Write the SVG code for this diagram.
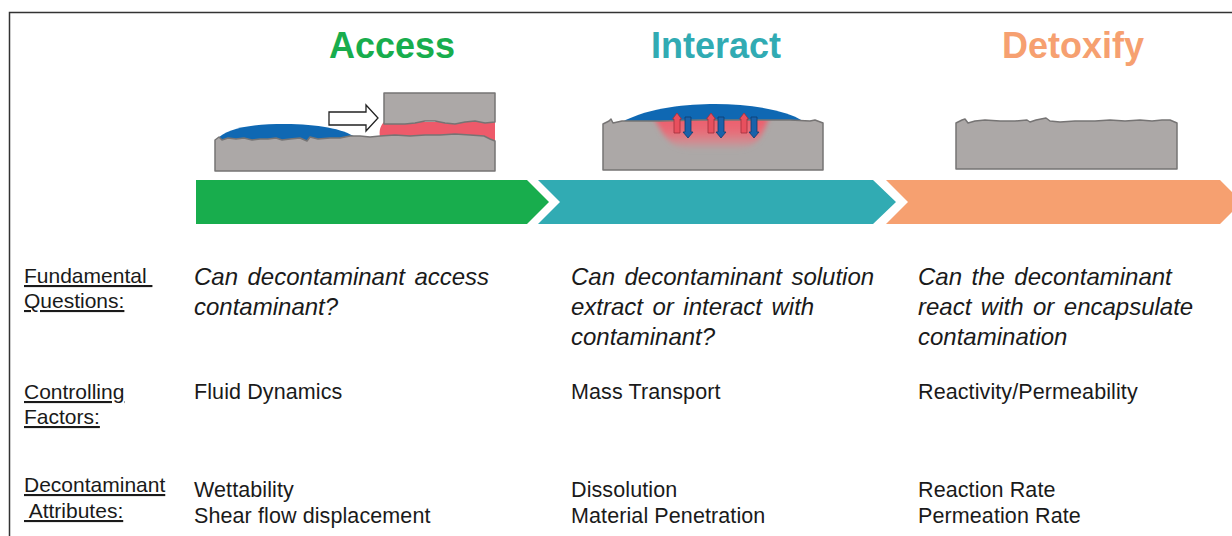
<svg xmlns="http://www.w3.org/2000/svg" width="1232" height="536" viewBox="0 0 1232 536">
  <style>
    .title { font-family: "Liberation Sans", Arial, sans-serif; font-weight: bold; font-size: 36px; text-anchor: middle; }
    .label { font-family: "Liberation Sans", Arial, sans-serif; font-size: 21px; fill: #1a1a1a; text-decoration: underline; }
    .q { font-family: "Liberation Sans", Arial, sans-serif; font-size: 24px; font-style: italic; fill: #1a1a1a; word-spacing: 2.8px; }
    .body { font-family: "Liberation Sans", Arial, sans-serif; font-size: 21.5px; letter-spacing: 0.1px; fill: #1a1a1a; }
    .solid { fill: #aca8a7; stroke: #767474; stroke-width: 1.5; stroke-linejoin: round; }
    .frame { fill: none; stroke: #333; stroke-width: 1.5; }
  </style>
  <defs>
    <linearGradient id="soak" x1="0" y1="0" x2="0" y2="1">
      <stop offset="0" stop-color="#ee5a6a" stop-opacity="1"/>
      <stop offset="0.5" stop-color="#ea6b77" stop-opacity="0.95"/>
      <stop offset="0.8" stop-color="#dd828a" stop-opacity="0.7"/>
      <stop offset="1" stop-color="#c09a9c" stop-opacity="0.3"/>
    </linearGradient>
    <filter id="soften" x="-20%" y="-30%" width="140%" height="160%">
      <feGaussianBlur stdDeviation="2.5"/>
    </filter>
    <clipPath id="blockClip">
      <path d="M603,170 L603,124 L609,121 L611,119 L613,123 L622,121 L660,121 L700,120 L740,120 L790,120 L810,121 L815,120 L823,123 L823,170 Z"/>
    </clipPath>
    <path id="upArrow" d="M0,0 L4.5,6 L3,6 L3,20 L-3,20 L-3,6 L-4.5,6 Z" fill="#e8505e" stroke="#a0303c" stroke-width="0.8"/>
    <path id="downArrow" d="M0,0 L-5,-6 L-3,-6 L-3,-21 L3,-21 L3,-6 L5,-6 Z" fill="#1a62aa" stroke="#0d3d70" stroke-width="0.8"/>
  </defs>

  <!-- outer frame (top and left edges visible) -->
  <path class="frame" d="M9.5,536 L9.5,12.5 L1232,12.5"/>

  <!-- stage titles -->
  <text class="title" x="392" y="58" fill="#18ad4d">Access</text>
  <text class="title" x="716" y="58" fill="#31abb3">Interact</text>
  <text class="title" x="1073" y="58" fill="#f6a070">Detoxify</text>

  <!-- Access illustration: droplet pushed under a block -->
  <g id="access-sketch">
    <path d="M215,141 C226,128 252,124 285,124 C318,124 343,129 355,137 L355,146 L215,146 Z" fill="#0f68b3"/>
    <path d="M384,122 L495,122 L495,143 L380,143 L380,137 C379,131 380,126 384,122 Z" fill="#ee5a6a"/>
    <path class="solid" d="M384,93 L495,93 L495,122 L485,123 L475,121 L465,122 L455,124 L445,123 L435,121 L425,121 L415,123 L405,124 L395,124 L384,124 Z"/>
    <path class="solid" d="M215,171 L215,140 L219,137 L222,140 L228,138 L236,139 L244,138 L252,140 L260,139 L268,139 L276,138 L282,140 L290,139 L300,138 L307,141 L310,137 L318,139 L330,138 L340,138 L350,136 L360,136 L370,137 L380,136 L395,135 L410,136 L425,135 L440,135 L455,134 L470,135 L484,136 L490,139 L495,141 L495,171 Z"/>
    <path d="M329,112 L366,112 L366,105 L378,118 L366,131 L366,125 L329,125 Z" fill="#fff" stroke="#222" stroke-width="1.3" stroke-linejoin="miter"/>
  </g>

  <!-- Interact illustration: solution exchanging with soaked surface -->
  <g id="interact-sketch">
    <path d="M622,122 C650,107 688,104 715,104 C750,104 786,110 803,121 L803,132 L622,132 Z" fill="#0f68b3"/>
    <path d="M603,170 L603,124 L609,121 L611,119 L613,123 L622,121 L660,121 L700,120 L740,120 L790,120 L810,121 L815,120 L823,123 L823,170 Z" fill="#aca8a7"/>
    <g clip-path="url(#blockClip)">
      <path d="M652,116 L770,116 C764,126 764,146 738,149 L690,149 C664,147 662,128 652,116 Z" fill="url(#soak)" filter="url(#soften)"/>
    </g>
    <path d="M603,170 L603,124 L609,121 L611,119 L613,123 L622,121 L660,121 L700,120 L740,120 L790,120 L810,121 L815,120 L823,123 L823,170 Z" fill="none" stroke="#767474" stroke-width="1.5" stroke-linejoin="round"/>
    <use href="#upArrow" x="677" y="113"/>
    <use href="#upArrow" x="711" y="113"/>
    <use href="#upArrow" x="744" y="113"/>
    <use href="#downArrow" x="688" y="138"/>
    <use href="#downArrow" x="721" y="138"/>
    <use href="#downArrow" x="754" y="138"/>
  </g>

  <!-- Detoxify illustration: clean surface -->
  <g id="detoxify-sketch">
    <path class="solid" d="M956,169 L956,123 L962,120 L965,119 L968,123 L975,121 L985,120 L1000,121 L1015,121 L1027,120 L1030,122 L1036,120 L1046,118 L1050,121 L1060,122 L1075,121 L1095,121 L1110,120 L1125,121 L1140,120 L1152,121 L1162,120 L1170,120 L1177,123 L1177,169 Z"/>
  </g>

  <!-- process chevrons -->
  <g id="stages">
    <polygon id="stage-access" points="196,180 527,180 549,202 527,224 196,224" fill="#18ad4d"/>
    <polygon id="stage-interact" points="538,180 873,180 896,202 873,224 538,224 560,202" fill="#31abb3"/>
    <polygon id="stage-detoxify" points="886,180 1220,180 1242,202 1220,224 886,224 908,202" fill="#f6a070"/>
  </g>

  <!-- row labels -->
  <g id="row-labels">
    <text class="label" x="24" y="283" xml:space="preserve">Fundamental </text>
    <text class="label" x="24" y="308">Questions:</text>
    <text class="label" x="24" y="399">Controlling</text>
    <text class="label" x="24" y="424">Factors:</text>
    <text class="label" x="24" y="492">Decontaminant</text>
    <text class="label" x="24" y="518" xml:space="preserve"> Attributes:</text>
  </g>

  <!-- Access column -->
  <g id="access-col">
    <text class="q" x="194" y="285">Can decontaminant access</text>
    <text class="q" x="194" y="315">contaminant?</text>
    <text class="body" x="194" y="399">Fluid Dynamics</text>
    <text class="body" x="194" y="497">Wettability</text>
    <text class="body" x="194" y="523">Shear flow displacement</text>
  </g>

  <!-- Interact column -->
  <g id="interact-col">
    <text class="q" x="571" y="285">Can decontaminant solution</text>
    <text class="q" x="571" y="315">extract or interact with</text>
    <text class="q" x="571" y="345">contaminant?</text>
    <text class="body" x="571" y="399">Mass Transport</text>
    <text class="body" x="571" y="497">Dissolution</text>
    <text class="body" x="571" y="523">Material Penetration</text>
  </g>

  <!-- Detoxify column -->
  <g id="detoxify-col">
    <text class="q" x="918" y="285">Can the decontaminant</text>
    <text class="q" x="918" y="315">react with or encapsulate</text>
    <text class="q" x="918" y="345">contamination</text>
    <text class="body" x="918" y="399">Reactivity/Permeability</text>
    <text class="body" x="918" y="497">Reaction Rate</text>
    <text class="body" x="918" y="523">Permeation Rate</text>
  </g>
</svg>
